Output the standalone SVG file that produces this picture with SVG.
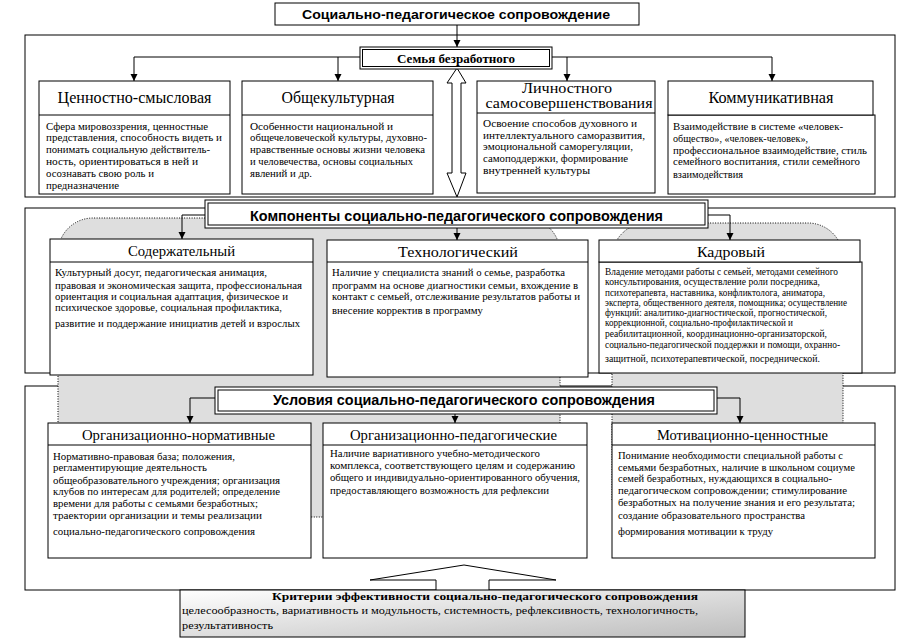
<svg xmlns="http://www.w3.org/2000/svg" width="921" height="640" viewBox="0 0 921 640">
<defs>
<marker id="arr" markerWidth="8" markerHeight="8" refX="7" refY="3.5" orient="auto" markerUnits="userSpaceOnUse"><path d="M0,0 L7,3.5 L0,7 Z" fill="#000"/></marker>
<linearGradient id="cg" x1="0" y1="0" x2="1" y2="1"><stop offset="0" stop-color="#ffffff"/><stop offset="1" stop-color="#bdbdbd"/></linearGradient>
<style>
.frame{fill:none;stroke:#000;stroke-width:1}
.box{fill:#fff;stroke:#000;stroke-width:1}
.grey{fill:#dedede;stroke:#000;stroke-width:1;stroke-dasharray:1 1.5}
.conn{fill:none;stroke:#000;stroke-width:1}
.arrow{marker-end:url(#arr)}
text{fill:#000}
.hd{font-size:16px;text-anchor:middle}
.hd2{font-size:15px;text-anchor:middle}
.hd3{font-size:14px;text-anchor:middle}
.bd{font-size:11px}
.bds{font-size:9.5px}
.ttl{font-family:"Liberation Sans",Arial,sans-serif;font-weight:bold;text-anchor:middle}
.ttls{font-weight:bold;text-anchor:middle}
</style>
</defs>
<rect width="921" height="640" fill="#fff"/>

<g id="frames">
<rect class="frame" x="25" y="35" width="870" height="162"/>
<rect class="frame" x="25" y="208" width="870" height="165"/>
<rect class="frame" x="25" y="386" width="870" height="204"/>
</g>

<g id="grey-bg">
<path class="grey" d="M58,517 L58,253 A35,35 0 0 1 93,218 L525,218 A35,35 0 0 1 560,253 L560,517 Z"/>
<path class="grey" d="M612,500 L612,258 A35,35 0 0 1 647,223 L808,223 A35,35 0 0 1 843,258 L843,500 Z"/>
</g>

<g id="connectors">
<path class="conn arrow" d="M457,25 L457,47"/>
<path class="conn arrow" d="M360,57 L134,57 L134,81"/>
<path class="conn arrow" d="M338,57 L338,81"/>
<path class="conn arrow" d="M552,57 L772,57 L772,81"/>
<path class="conn arrow" d="M567,57 L567,81"/>
<polygon points="457,68 466,83 461,83 461,173 466,173 457,197 447,173 452,173 452,83 447,83" fill="#fff" stroke="#000" stroke-width="1"/>
<path class="conn arrow" d="M205,215 L182,215 L182,239"/>
<path class="conn arrow" d="M457,228 L457,240"/>
<path class="conn arrow" d="M708,215 L730,215 L730,240"/>
<path class="conn arrow" d="M215,398 L190,398 L190,423"/>
<path class="conn arrow" d="M455,414 L455,423"/>
<path class="conn arrow" d="M717,398 L740,398 L740,423"/>
<polygon points="436,591 436,580 370,580 464,565 556,580 489,580 489,591" fill="#fff" stroke="#000" stroke-width="1"/>
</g>

<g id="title-main">
<rect class="box" x="275" y="3" width="364" height="22"/>
<text class="ttl" x="456" y="19" font-size="13" textLength="308" lengthAdjust="spacingAndGlyphs">Социально-педагогическое сопровождение</text>
</g>

<g id="body" font-family="'Liberation Serif', 'DejaVu Serif', serif">
<g id="family">
<rect class="box" x="360" y="47" width="192" height="22"/>
<rect class="frame" x="362.5" y="49.5" width="187" height="17"/>
<text class="ttls" x="456" y="63" font-size="12" textLength="118" lengthAdjust="spacingAndGlyphs">Семья безработного</text>
</g>

<g id="n-cennost">
<rect class="box" x="39" y="81" width="191" height="113"/>
<line class="conn" x1="39" y1="115" x2="230" y2="115"/>
<text class="hd" x="134.5" y="103" textLength="154" lengthAdjust="spacingAndGlyphs">Ценностно-смысловая</text>
<text class="bd" x="46" y="129.5" textLength="162" lengthAdjust="spacingAndGlyphs">Сфера мировоззрения,  ценностные</text>
<text class="bd" x="46" y="141" textLength="176" lengthAdjust="spacingAndGlyphs">представления, способность видеть и</text>
<text class="bd" x="46" y="153" textLength="164" lengthAdjust="spacingAndGlyphs">понимать социальную действитель-</text>
<text class="bd" x="46" y="165" textLength="152" lengthAdjust="spacingAndGlyphs">ность, ориентироваться в ней и</text>
<text class="bd" x="46" y="177" textLength="108" lengthAdjust="spacingAndGlyphs">осознавать свою роль и</text>
<text class="bd" x="46" y="189" textLength="73" lengthAdjust="spacingAndGlyphs">предназначение</text>
</g>

<g id="n-obshche">
<rect class="box" x="242" y="81" width="191" height="113"/>
<line class="conn" x1="242" y1="115" x2="433" y2="115"/>
<text class="hd" x="338" y="103" textLength="113" lengthAdjust="spacingAndGlyphs">Общекультурная</text>
<text class="bd" x="250" y="129.5" textLength="143" lengthAdjust="spacingAndGlyphs">Особенности национальной и</text>
<text class="bd" x="250" y="141" textLength="177" lengthAdjust="spacingAndGlyphs">общечеловеческой культуры, духовно-</text>
<text class="bd" x="250" y="153" textLength="175" lengthAdjust="spacingAndGlyphs">нравственные основы жизни человека</text>
<text class="bd" x="250" y="165" textLength="163" lengthAdjust="spacingAndGlyphs">и человечества, основы социальных</text>
<text class="bd" x="250" y="177" textLength="62" lengthAdjust="spacingAndGlyphs">явлений и др.</text>
</g>

<g id="n-lichn">
<rect class="box" x="477" y="81" width="178" height="112"/>
<line class="conn" x1="477" y1="113" x2="655" y2="113"/>
<text class="hd3" x="567" y="93" textLength="90" lengthAdjust="spacingAndGlyphs">Личностного</text>
<text class="hd3" x="569" y="108" textLength="167" lengthAdjust="spacingAndGlyphs">самосовершенствования</text>
<text class="bd" x="483" y="127" textLength="154" lengthAdjust="spacingAndGlyphs">Освоение способов духовного и</text>
<text class="bd" x="483" y="138.5" textLength="162" lengthAdjust="spacingAndGlyphs">интеллектуального саморазвития,</text>
<text class="bd" x="483" y="150" textLength="150" lengthAdjust="spacingAndGlyphs">эмоциональной саморегуляции,</text>
<text class="bd" x="483" y="162" textLength="145" lengthAdjust="spacingAndGlyphs">самоподдержки, формирование</text>
<text class="bd" x="483" y="173.5" textLength="107" lengthAdjust="spacingAndGlyphs">внутренней культуры</text>
</g>

<g id="n-kommun">
<rect class="box" x="668" y="115" width="207" height="79"/>
<rect class="box" x="668" y="81" width="205" height="34"/>
<text class="hd" x="771" y="103" textLength="125" lengthAdjust="spacingAndGlyphs">Коммуникативная</text>
<text class="bd" x="673" y="130" textLength="170" lengthAdjust="spacingAndGlyphs">Взаимодействие в системе «человек-</text>
<text class="bd" x="673" y="142" textLength="135" lengthAdjust="spacingAndGlyphs">общество»,  «человек-человек»,</text>
<text class="bd" x="673" y="153.5" textLength="194" lengthAdjust="spacingAndGlyphs">профессиональное взаимодействие, стиль</text>
<text class="bd" x="673" y="165" textLength="187" lengthAdjust="spacingAndGlyphs">семейного воспитания, стили семейного</text>
<text class="bd" x="673" y="177.5" textLength="70" lengthAdjust="spacingAndGlyphs">взаимодействия</text>
</g>

<g id="title-components">
<rect class="box" x="205" y="200" width="503" height="28"/>
<rect class="frame" x="208" y="203" width="497" height="22"/>
<text class="ttl" x="456.5" y="221" font-size="14" textLength="413" lengthAdjust="spacingAndGlyphs">Компоненты социально-педагогического сопровождения</text>
</g>

<g id="n-soderzh">
<rect class="box" x="50" y="239" width="263" height="136"/>
<line class="conn" x1="50" y1="262" x2="313" y2="262"/>
<text class="hd2" x="181.5" y="256" textLength="107" lengthAdjust="spacingAndGlyphs">Содержательный</text>
<text class="bd" x="55" y="275.5" textLength="212" lengthAdjust="spacingAndGlyphs">Культурный досуг,  педагогическая анимация,</text>
<text class="bd" x="55" y="288.5" textLength="247" lengthAdjust="spacingAndGlyphs">правовая и экономическая защита, профессиональная</text>
<text class="bd" x="55" y="299.5" textLength="233" lengthAdjust="spacingAndGlyphs">ориентация и социальная адаптация, физическое и</text>
<text class="bd" x="55" y="311" textLength="227" lengthAdjust="spacingAndGlyphs">психическое здоровье, социальная профилактика,</text>
<text class="bd" x="55" y="327" textLength="245" lengthAdjust="spacingAndGlyphs">развитие и поддержание инициатив детей и взрослых</text>
</g>

<g id="n-tehnol">
<rect class="box" x="327" y="240" width="261" height="137"/>
<line class="conn" x1="327" y1="262" x2="588" y2="262"/>
<text class="hd2" x="458" y="257" textLength="120" lengthAdjust="spacingAndGlyphs">Технологический</text>
<text class="bd" x="332" y="276" textLength="233" lengthAdjust="spacingAndGlyphs">Наличие у специалиста знаний о семье, разработка</text>
<text class="bd" x="332" y="288.5" textLength="246" lengthAdjust="spacingAndGlyphs">программ на основе диагностики семьи, вхождение в</text>
<text class="bd" x="332" y="300" textLength="248" lengthAdjust="spacingAndGlyphs">контакт с семьей, отслеживание результатов работы и</text>
<text class="bd" x="332" y="313.5" textLength="151" lengthAdjust="spacingAndGlyphs">внесение корректив в программу</text>
</g>

<g id="n-kadr">
<rect class="box" x="599" y="262" width="263" height="111"/>
<rect class="box" x="599" y="240" width="261" height="22"/>
<text class="hd2" x="731" y="257" textLength="68" lengthAdjust="spacingAndGlyphs">Кадровый</text>
<text class="bds" x="605" y="275" textLength="233" lengthAdjust="spacingAndGlyphs">Владение методами работы с семьей, методами семейного</text>
<text class="bds" x="605" y="285" textLength="215" lengthAdjust="spacingAndGlyphs">консультирования, осуществление роли посредника,</text>
<text class="bds" x="605" y="295.5" textLength="220" lengthAdjust="spacingAndGlyphs">психотерапевта, наставника, конфликтолога, аниматора,</text>
<text class="bds" x="605" y="306" textLength="242" lengthAdjust="spacingAndGlyphs">эксперта, общественного деятеля, помощника; осуществление</text>
<text class="bds" x="605" y="316" textLength="222" lengthAdjust="spacingAndGlyphs">функций: аналитико-диагностической, прогностической,</text>
<text class="bds" x="605" y="326" textLength="188" lengthAdjust="spacingAndGlyphs">коррекционной, социально-профилактической и</text>
<text class="bds" x="605" y="337" textLength="222" lengthAdjust="spacingAndGlyphs">реабилитационной, координационно-организаторской,</text>
<text class="bds" x="605" y="348" textLength="235" lengthAdjust="spacingAndGlyphs">социально-педагогической поддержки и помощи, охранно-</text>
<text class="bds" x="605" y="362" textLength="215" lengthAdjust="spacingAndGlyphs">защитной, психотерапевтической, посреднической.</text>
</g>

<g id="title-conditions">
<rect class="box" x="215" y="387" width="502" height="27"/>
<rect class="frame" x="218" y="390" width="496" height="21"/>
<text class="ttl" x="464" y="405" font-size="14" textLength="382" lengthAdjust="spacingAndGlyphs">Условия социально-педагогического сопровождения</text>
</g>

<g id="n-orgnorm">
<rect class="box" x="48" y="423" width="263" height="135"/>
<line class="conn" x1="48" y1="445" x2="311" y2="445"/>
<text class="hd3" x="178.5" y="440" textLength="193" lengthAdjust="spacingAndGlyphs">Организационно-нормативные</text>
<text class="bd" x="53" y="459.5" textLength="182" lengthAdjust="spacingAndGlyphs">Нормативно-правовая база; положения,</text>
<text class="bd" x="53" y="471" textLength="154" lengthAdjust="spacingAndGlyphs">регламентирующие деятельность</text>
<text class="bd" x="53" y="483.5" textLength="227" lengthAdjust="spacingAndGlyphs">общеобразовательного учреждения; организация</text>
<text class="bd" x="53" y="495" textLength="227" lengthAdjust="spacingAndGlyphs">клубов по интересам для родителей; определение</text>
<text class="bd" x="53" y="507" textLength="205" lengthAdjust="spacingAndGlyphs">времени для работы с семьями безработных;</text>
<text class="bd" x="53" y="519" textLength="209" lengthAdjust="spacingAndGlyphs">траектории организации и темы реализации</text>
<text class="bd" x="53" y="534.5" textLength="202" lengthAdjust="spacingAndGlyphs">социально-педагогического сопровождения</text>
</g>

<g id="n-orgped">
<rect class="box" x="323" y="423" width="264" height="135"/>
<line class="conn" x1="323" y1="445" x2="587" y2="445"/>
<text class="hd3" x="453.5" y="440" textLength="207" lengthAdjust="spacingAndGlyphs">Организационно-педагогические</text>
<text class="bd" x="330" y="457" textLength="210" lengthAdjust="spacingAndGlyphs">Наличие вариативного учебно-методического</text>
<text class="bd" x="330" y="468.5" textLength="245" lengthAdjust="spacingAndGlyphs">комплекса, соответствующего целям и содержанию</text>
<text class="bd" x="330" y="481" textLength="250" lengthAdjust="spacingAndGlyphs">общего и индивидуально-ориентированного обучения,</text>
<text class="bd" x="330" y="494" textLength="219" lengthAdjust="spacingAndGlyphs">предоставляющего возможность для рефлексии</text>
</g>

<g id="n-motiv">
<rect class="box" x="612" y="423" width="263" height="135"/>
<line class="conn" x1="612" y1="445" x2="875" y2="445"/>
<text class="hd3" x="742.5" y="440" textLength="171" lengthAdjust="spacingAndGlyphs">Мотивационно-ценностные</text>
<text class="bd" x="618" y="458.5" textLength="225" lengthAdjust="spacingAndGlyphs">Понимание необходимости специальной работы с</text>
<text class="bd" x="618" y="471" textLength="237" lengthAdjust="spacingAndGlyphs">семьями безработных, наличие в школьном социуме</text>
<text class="bd" x="618" y="482" textLength="214" lengthAdjust="spacingAndGlyphs">семей безработных, нуждающихся в социально-</text>
<text class="bd" x="618" y="494" textLength="229" lengthAdjust="spacingAndGlyphs">педагогическом сопровождении; стимулирование</text>
<text class="bd" x="618" y="506" textLength="237" lengthAdjust="spacingAndGlyphs">безработных на получение знания и его результата;</text>
<text class="bd" x="618" y="518.5" textLength="187" lengthAdjust="spacingAndGlyphs">создание образовательного пространства</text>
<text class="bd" x="618" y="534.5" textLength="155" lengthAdjust="spacingAndGlyphs">формирования мотивации к труду</text>
</g>

<g id="n-criteria">
<rect x="180" y="590" width="565" height="47" fill="url(#cg)" stroke="#000" stroke-width="1"/>
<text class="ttls" x="485" y="600" font-size="11" textLength="426" lengthAdjust="spacingAndGlyphs">Критерии эффективности социально-педагогического сопровождения</text>
<text class="bd" x="182" y="614" textLength="516" lengthAdjust="spacingAndGlyphs">целесообразность, вариативность  и  модульность, системность, рефлексивность, технологичность,</text>
<text class="bd" x="182" y="629" textLength="91" lengthAdjust="spacingAndGlyphs">результативность</text>
</g>
</g>
</svg>
